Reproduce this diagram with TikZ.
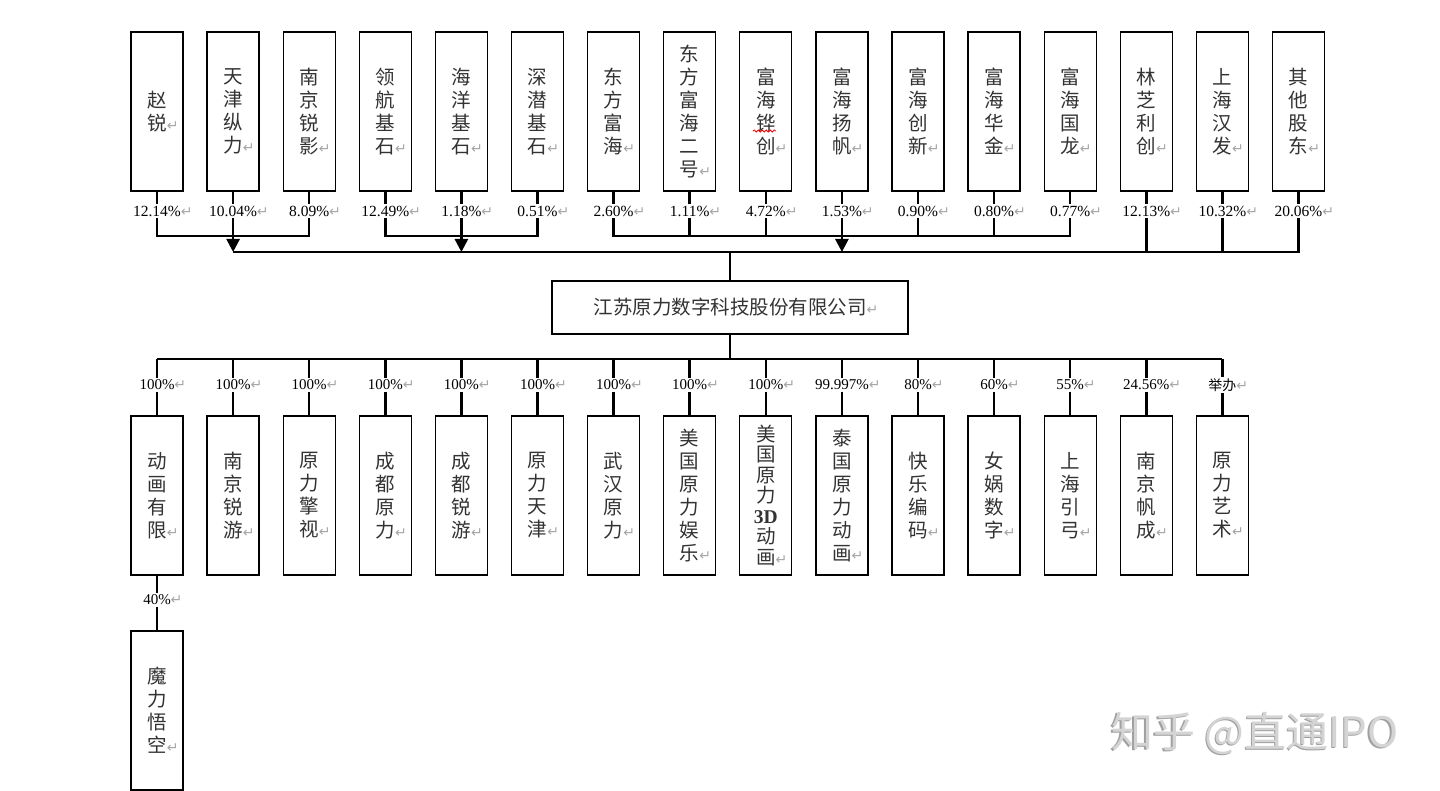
\documentclass[tikz,border=0pt]{standalone}
\usepackage{fontspec}
\setmainfont{Liberation Serif}
\newfontfamily\cjk{Noto Sans CJK SC}
\newfontfamily\dejavu{DejaVu Sans}
\usetikzlibrary{arrows.meta,decorations.pathmorphing}
\definecolor{txt}{HTML}{333333}
\definecolor{wmlight}{HTML}{D4D4D4}
\definecolor{wmdark}{HTML}{A0A0A0}
\newcommand\retmk{\rlap{\textcolor{gray!70}{\dejavu\fontsize{14}{14}\selectfont ↵}}}
\tikzset{
  sbox/.style={draw, line width=1.3pt, minimum width=52pt, minimum height=159pt, inner sep=0pt, align=center, text=txt, font=\cjk\fontsize{19.5}{23}\selectfont},
  cbox/.style={draw, line width=1.3pt, minimum width=356pt, minimum height=53pt, inner sep=0pt, text=txt, font=\cjk\fontsize{19.5}{23}\selectfont},
  pct/.style={inner sep=1.5pt, font=\fontsize{15.5}{15.5}\selectfont},
  bpct/.style={inner sep=1.5pt, font=\fontsize{15}{15}\selectfont},
  conn/.style={line width=2.5pt},
  arr/.style={line width=2.5pt, -{Triangle[length=13pt,width=13pt]}},
}
\begin{document}
\begin{tikzpicture}[x=1pt,y=-1pt]
\fill[white] (0,0) rectangle (1440,791);
\useasboundingbox (0,0) rectangle (1440,791);
% top shareholders
\foreach \t/\p [count=\i from 0] in {
  {赵\\锐}/12.14\%, {天\\津\\纵\\力}/10.04\%, {南\\京\\锐\\影}/8.09\%,
  {领\\航\\基\\石}/12.49\%, {海\\洋\\基\\石}/1.18\%, {深\\潜\\基\\石}/0.51\%,
  {东\\方\\富\\海}/2.60\%, {东\\方\\富\\海\\二\\号}/1.11\%, {富\\海\\铧\\创}/4.72\%,
  {富\\海\\扬\\帆}/1.53\%, {富\\海\\创\\新}/0.90\%, {富\\海\\华\\金}/0.80\%,
  {富\\海\\国\\龙}/0.77\%, {林\\芝\\利\\创}/12.13\%, {上\\海\\汉\\发}/10.32\%,
  {其\\他\\股\\东}/20.06\%}{
  \node[sbox] (t\i) at ({157+76.1*\i},111.5) {\t\retmk};
  \node[pct] (tp\i) at ({157+76.1*\i},211) {\p\retmk};
  \draw[conn] (t\i.south) -- (tp\i.north);
}
% spell-check squiggle
\draw[red, line width=0.8pt, decorate, decoration={snake, amplitude=1pt, segment length=4pt}] (753,131) -- (776,131);
% coordinates for bracket and bus
\coordinate (bus) at (0,252);
\coordinate (brk) at (0,236);
% group 1
\draw[conn] (tp0.south) -- (tp0.south |- brk) -| (tp2.south);
\draw[arr] (tp1.south) -- (tp1.south |- bus);
% group 2
\draw[conn] (tp3.south) -- (tp3.south |- brk) -| (tp5.south);
\draw[arr] (tp4.south) -- (tp4.south |- bus);
% group 3
\draw[conn] (tp6.south) -- (tp6.south |- brk) -| (tp12.south);
\foreach \k in {7,8,10,11}{\draw[conn] (tp\k.south) -- (tp\k.south |- brk);}
\draw[arr] (tp9.south) -- (tp9.south |- bus);
% main bus
\draw[conn] (tp1.south |- bus) -| (tp15.south);
\draw[conn] (tp13.south) -- (tp13.south |- bus);
\draw[conn] (tp14.south) -- (tp14.south |- bus);
% company
\node[cbox] (co) at (730,307.5) {江苏原力数字科技股份有限公司\retmk};
\draw[conn] (co.north) -- (co.north |- bus);
% subsidiaries
\coordinate (bbus) at (0,359);
\foreach \t/\p [count=\i from 0] in {
  {动\\画\\有\\限}/100\%, {南\\京\\锐\\游}/100\%, {原\\力\\擎\\视}/100\%,
  {成\\都\\原\\力}/100\%, {成\\都\\锐\\游}/100\%, {原\\力\\天\\津}/100\%,
  {武\\汉\\原\\力}/100\%, {美\\国\\原\\力\\娱\\乐}/100\%,
  {美\\[-2.5pt]国\\[-2.5pt]原\\[-2.5pt]力\\[-2.5pt]{\rmfamily\bfseries 3D}\\[-2.5pt]动\\[-2.5pt]画}/100\%,
  {泰\\国\\原\\力\\动\\画}/99.997\%, {快\\乐\\编\\码}/80\%, {女\\娲\\数\\字}/60\%,
  {上\\海\\引\\弓}/55\%, {南\\京\\帆\\成}/24.56\%, {原\\力\\艺\\术}/{\cjk\fontsize{14}{15}\selectfont 举办}}{
  \node[sbox] (b\i) at ({157+76.1*\i},495.5) {\t\retmk};
  \node[bpct] (bp\i) at ({157+76.1*\i},385) {\p\retmk};
  \draw[conn] (bp\i.north |- bbus) -- (bp\i.north);
  \draw[conn] (bp\i.south) -- (b\i.north);
}
\draw[conn] (co.south) -- (co.south |- bbus);
\draw[conn] (bp0.north |- bbus) -- (bp14.north |- bbus);
% second level
\node[bpct] (sp) at (157,600) {40\%\retmk};
\node[sbox] (s) at (157,710.5) {魔\\力\\悟\\空\retmk};
\draw[conn] (b0.south) -- (sp.north);
\draw[conn] (sp.south) -- (s.north);
% watermark
\node[text=wmdark, font=\cjk\fontsize{42}{42}\selectfont] at (1253.5,734.5) {知乎 @直通IPO};
\node[text=wmlight, font=\cjk\fontsize{42}{42}\selectfont] (wm) at (1255,733) {知乎 @直通IPO};
\end{tikzpicture}
\end{document}
